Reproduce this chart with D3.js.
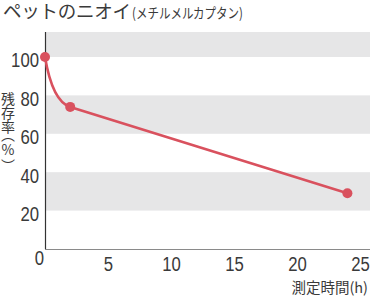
<!DOCTYPE html>
<html>
<head>
<meta charset="utf-8">
<script src="https://cdn.jsdelivr.net/npm/d3@7"></script>
<style>
  body { margin: 0; background: #fff; }
  svg text { fill: #3a3a3a; }
  .num { font-family: "Liberation Sans", Arial, sans-serif; font-size: 20px; }
  .jp { font-family: "Noto Sans CJK JP", sans-serif; }
</style>
</head>
<body>
<div class="graph"></div>
<script>
// data
var hours = [0, 2, 24];
var remain = [100, 74, 29];
var xTicks = [0, 5, 10, 15, 20, 25];
var yTicks = [20, 40, 60, 80, 100];
var bands = [[100, 113], [60, 80], [20, 40]];
var titleMain = 'ペットのニオイ', titleSub = '(メチルメルカプタン)';
var yTitle = ['残', '存', '率', '︵', '%', '︶'];
var xTitle = '測定時間(h)';

function render(){
    var w = 370, h = 298;
    var svg = d3.select('div.graph').append('svg')
        .attr('width', w).attr('height', h);

    // plot area
    var m = {left: 45, right: 370, top: 32, bottom: 249};
    var x = d3.scaleLinear().domain([0, 25]).range([m.left, 360]);
    var y = d3.scaleLinear().domain([0, 113]).range([m.bottom, m.top]);
    var col = '#d9515e';

    // condensed digits
    function narrow(sel){
        sel.attr('textLength', function(){ return this.textContent.length * 9.3; })
           .attr('lengthAdjust', 'spacingAndGlyphs');
    }

    // gray bands
    svg.selectAll('.band').data(bands)
      .enter().append('rect')
      .attr('class', 'band')
      .attr('x', m.left).attr('width', m.right - m.left)
      .attr('y', function(d){ return y(d[1]); })
      .attr('height', function(d){ return y(d[0]) - y(d[1]); })
      .attr('fill', '#e6e6e7');

    // axes
    var xAxisG = svg.append('g')
      .attr('transform', 'translate(0,' + m.bottom + ')')
      .call(d3.axisBottom(x).tickValues(xTicks).tickSize(0).tickPadding(0));
    xAxisG.select('.domain').remove();
    xAxisG.attr('font-family', null).attr('font-size', null);
    xAxisG.selectAll('.tick text').attr('class', 'num').attr('y', 22).attr('dy', null).call(narrow);
    xAxisG.selectAll('.tick').filter(function(d){ return d === 0; })
      .select('text').attr('x', -6).attr('y', 16);

    var yAxisG = svg.append('g')
      .attr('transform', 'translate(' + (m.left - 6) + ',0)')
      .call(d3.axisLeft(y).tickValues(yTicks).tickSize(0).tickPadding(0));
    yAxisG.select('.domain').remove();
    yAxisG.attr('font-family', null).attr('font-size', null);
    yAxisG.selectAll('.tick text').attr('class', 'num').attr('dy', null).attr('y', 10).attr('x', 0).call(narrow);

    svg.append('line')
      .attr('x1', m.left).attr('x2', m.right).attr('y1', m.bottom + 0.5).attr('y2', m.bottom + 0.5)
      .attr('stroke', '#8a8a8a').attr('stroke-width', 1.2);
    svg.append('line')
      .attr('x1', m.left + 0.5).attr('x2', m.left + 0.5).attr('y1', m.top).attr('y2', m.bottom)
      .attr('stroke', '#333').attr('stroke-width', 1.2);

    // line: curved drop for the first 2h, straight after
    var pts = hours.map(function(d, i){ return [x(d), y(remain[i])]; });
    var slope = (pts[2][1] - pts[1][1]) / (pts[2][0] - pts[1][0]);
    var dx = pts[1][0] - pts[0][0], dy = pts[1][1] - pts[0][1];
    var p = d3.path();
    p.moveTo(pts[0][0], pts[0][1]);
    p.bezierCurveTo(pts[0][0] + dx * 0.2, pts[0][1] + dy * 0.6,
                    pts[1][0] - dx * 0.45, pts[1][1] - slope * dx * 0.45,
                    pts[1][0], pts[1][1]);
    p.lineTo(pts[2][0], pts[2][1]);
    svg.append('path').attr('d', p.toString())
      .attr('fill', 'none').attr('stroke', col).attr('stroke-width', 2.6);

    svg.selectAll('.point').data(pts)
      .enter().append('circle')
      .attr('class', 'point')
      .attr('cx', function(d){ return d[0]; })
      .attr('cy', function(d){ return d[1]; })
      .attr('r', 5).attr('fill', col);

    // titles
    svg.append('text').attr('class', 'jp').attr('x', 3).attr('y', 18)
      .attr('font-size', 18.5).attr('textLength', 128).attr('lengthAdjust', 'spacing')
      .text(titleMain);
    svg.append('text').attr('class', 'jp').attr('x', 132).attr('y', 17.5)
      .attr('font-size', 14).attr('textLength', 111).attr('lengthAdjust', 'spacingAndGlyphs')
      .text(titleSub);

    // vertical y title, one glyph per line
    var ys = [104, 118, 132, 140, 155, 171];
    svg.selectAll('.ytitle').data(yTitle)
      .enter().append('text')
      .attr('class', 'jp ytitle')
      .attr('x', 8).attr('y', function(d, i){ return ys[i]; })
      .attr('text-anchor', 'middle').attr('font-size', 14)
      .text(function(d){ return d; });

    svg.append('text').attr('class', 'jp')
      .attr('x', 368).attr('y', 293).attr('text-anchor', 'end')
      .attr('font-size', 14.5).text(xTitle);
}
render();
</script>
</body>
</html>
